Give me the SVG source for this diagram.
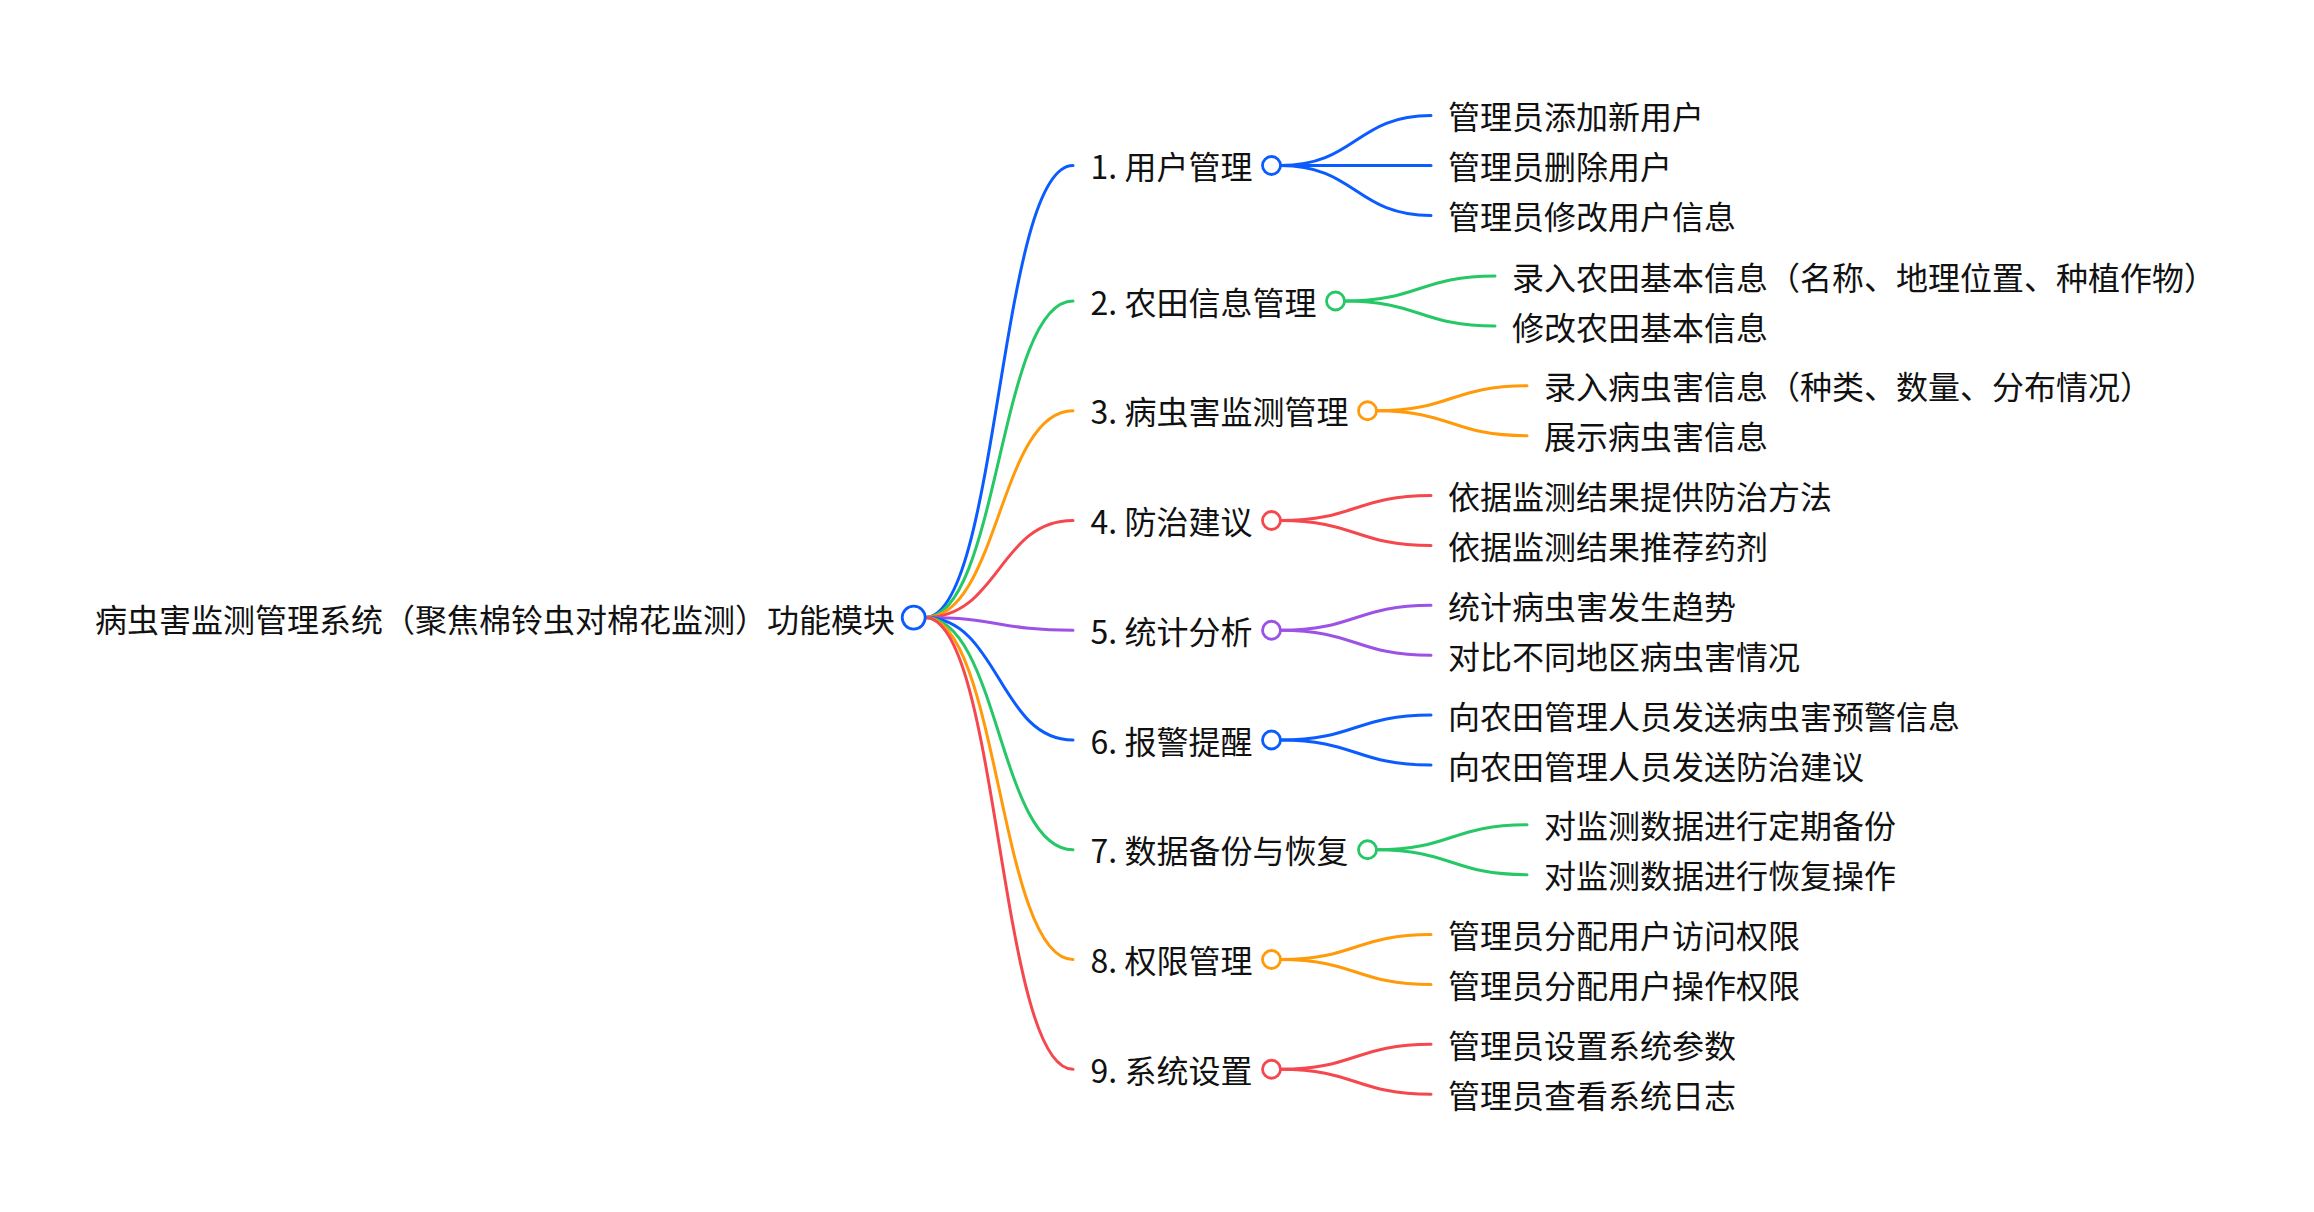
<svg xmlns="http://www.w3.org/2000/svg" width="2314" height="1212" viewBox="0 0 2314 1212">
<style>
text{font-family:"Microsoft YaHei","Noto Sans CJK SC","Noto Sans",sans-serif;font-size:32px;fill:#111}
.l{fill:none;stroke-width:3;stroke-linecap:round}
.c{fill:#fff;stroke-width:2.8}
.b{stroke:#0b5cff}.g{stroke:#25c766}.o{stroke:#ff9a0a}.r{stroke:#f5484e}.p{stroke:#9d52e6}
</style>
<rect width="2314" height="1212" fill="#fff"/>
<g id="connectors">
<path class="l b" d="M925 617.6C999 617.6 999 165.5 1073 165.5"/>
<path class="l g" d="M925 617.6C999 617.6 999 301 1073 301"/>
<path class="l o" d="M925 617.6C999 617.6 999 410.75 1073 410.75"/>
<path class="l r" d="M925 617.6C999 617.6 999 520.5 1073 520.5"/>
<path class="l p" d="M925 617.6C999 617.6 999 630.25 1073 630.25"/>
<path class="l b" d="M925 617.6C999 617.6 999 740 1073 740"/>
<path class="l g" d="M925 617.6C999 617.6 999 849.75 1073 849.75"/>
<path class="l o" d="M925 617.6C999 617.6 999 959.5 1073 959.5"/>
<path class="l r" d="M925 617.6C999 617.6 999 1069.25 1073 1069.25"/>
<path class="l b" d="M1280.5 165.5C1355.75 165.5 1355.75 115.5 1431 115.5"/>
<path class="l b" d="M1280.5 165.5L1431 165.5"/>
<path class="l b" d="M1280.5 165.5C1355.75 165.5 1355.75 215.5 1431 215.5"/>
<path class="l g" d="M1344.5 301C1419.75 301 1419.75 276 1495 276"/>
<path class="l g" d="M1344.5 301C1419.75 301 1419.75 326 1495 326"/>
<path class="l o" d="M1376.5 410.75C1451.75 410.75 1451.75 385.75 1527 385.75"/>
<path class="l o" d="M1376.5 410.75C1451.75 410.75 1451.75 435.75 1527 435.75"/>
<path class="l r" d="M1280.5 520.5C1355.75 520.5 1355.75 495.5 1431 495.5"/>
<path class="l r" d="M1280.5 520.5C1355.75 520.5 1355.75 545.5 1431 545.5"/>
<path class="l p" d="M1280.5 630.25C1355.75 630.25 1355.75 605.25 1431 605.25"/>
<path class="l p" d="M1280.5 630.25C1355.75 630.25 1355.75 655.25 1431 655.25"/>
<path class="l b" d="M1280.5 740C1355.75 740 1355.75 715 1431 715"/>
<path class="l b" d="M1280.5 740C1355.75 740 1355.75 765 1431 765"/>
<path class="l g" d="M1376.5 849.75C1451.75 849.75 1451.75 824.75 1527 824.75"/>
<path class="l g" d="M1376.5 849.75C1451.75 849.75 1451.75 874.75 1527 874.75"/>
<path class="l o" d="M1280.5 959.5C1355.75 959.5 1355.75 934.5 1431 934.5"/>
<path class="l o" d="M1280.5 959.5C1355.75 959.5 1355.75 984.5 1431 984.5"/>
<path class="l r" d="M1280.5 1069.25C1355.75 1069.25 1355.75 1044.25 1431 1044.25"/>
<path class="l r" d="M1280.5 1069.25C1355.75 1069.25 1355.75 1094.25 1431 1094.25"/>
</g>
<g id="root"><text x="895" y="631.5" text-anchor="end">病虫害监测管理系统（聚焦棉铃虫对棉花监测）功能模块</text><circle class="c b" cx="913.7" cy="617.6" r="11.5"/></g>
<g id="n1"><text x="1090.6" y="179">1. 用户管理</text><circle class="c b" cx="1271.5" cy="165.5" r="9"/></g>
<g id="n2"><text x="1090.6" y="314.5">2. 农田信息管理</text><circle class="c g" cx="1335.5" cy="301" r="9"/></g>
<g id="n3"><text x="1090.6" y="424.25">3. 病虫害监测管理</text><circle class="c o" cx="1367.5" cy="410.75" r="9"/></g>
<g id="n4"><text x="1090.6" y="534">4. 防治建议</text><circle class="c r" cx="1271.5" cy="520.5" r="9"/></g>
<g id="n5"><text x="1090.6" y="643.75">5. 统计分析</text><circle class="c p" cx="1271.5" cy="630.25" r="9"/></g>
<g id="n6"><text x="1090.6" y="753.5">6. 报警提醒</text><circle class="c b" cx="1271.5" cy="740" r="9"/></g>
<g id="n7"><text x="1090.6" y="863.25">7. 数据备份与恢复</text><circle class="c g" cx="1367.5" cy="849.75" r="9"/></g>
<g id="n8"><text x="1090.6" y="973">8. 权限管理</text><circle class="c o" cx="1271.5" cy="959.5" r="9"/></g>
<g id="n9"><text x="1090.6" y="1082.75">9. 系统设置</text><circle class="c r" cx="1271.5" cy="1069.25" r="9"/></g>
<g id="n1a"><text x="1448" y="129">管理员添加新用户</text></g>
<g id="n1b"><text x="1448" y="179">管理员删除用户</text></g>
<g id="n1c"><text x="1448" y="229">管理员修改用户信息</text></g>
<g id="n2a"><text x="1512" y="289.5">录入农田基本信息（名称、地理位置、种植作物）</text></g>
<g id="n2b"><text x="1512" y="339.5">修改农田基本信息</text></g>
<g id="n3a"><text x="1544" y="399.25">录入病虫害信息（种类、数量、分布情况）</text></g>
<g id="n3b"><text x="1544" y="449.25">展示病虫害信息</text></g>
<g id="n4a"><text x="1448" y="509">依据监测结果提供防治方法</text></g>
<g id="n4b"><text x="1448" y="559">依据监测结果推荐药剂</text></g>
<g id="n5a"><text x="1448" y="618.75">统计病虫害发生趋势</text></g>
<g id="n5b"><text x="1448" y="668.75">对比不同地区病虫害情况</text></g>
<g id="n6a"><text x="1448" y="728.5">向农田管理人员发送病虫害预警信息</text></g>
<g id="n6b"><text x="1448" y="778.5">向农田管理人员发送防治建议</text></g>
<g id="n7a"><text x="1544" y="838.25">对监测数据进行定期备份</text></g>
<g id="n7b"><text x="1544" y="888.25">对监测数据进行恢复操作</text></g>
<g id="n8a"><text x="1448" y="948">管理员分配用户访问权限</text></g>
<g id="n8b"><text x="1448" y="998">管理员分配用户操作权限</text></g>
<g id="n9a"><text x="1448" y="1057.75">管理员设置系统参数</text></g>
<g id="n9b"><text x="1448" y="1107.75">管理员查看系统日志</text></g>
</svg>
